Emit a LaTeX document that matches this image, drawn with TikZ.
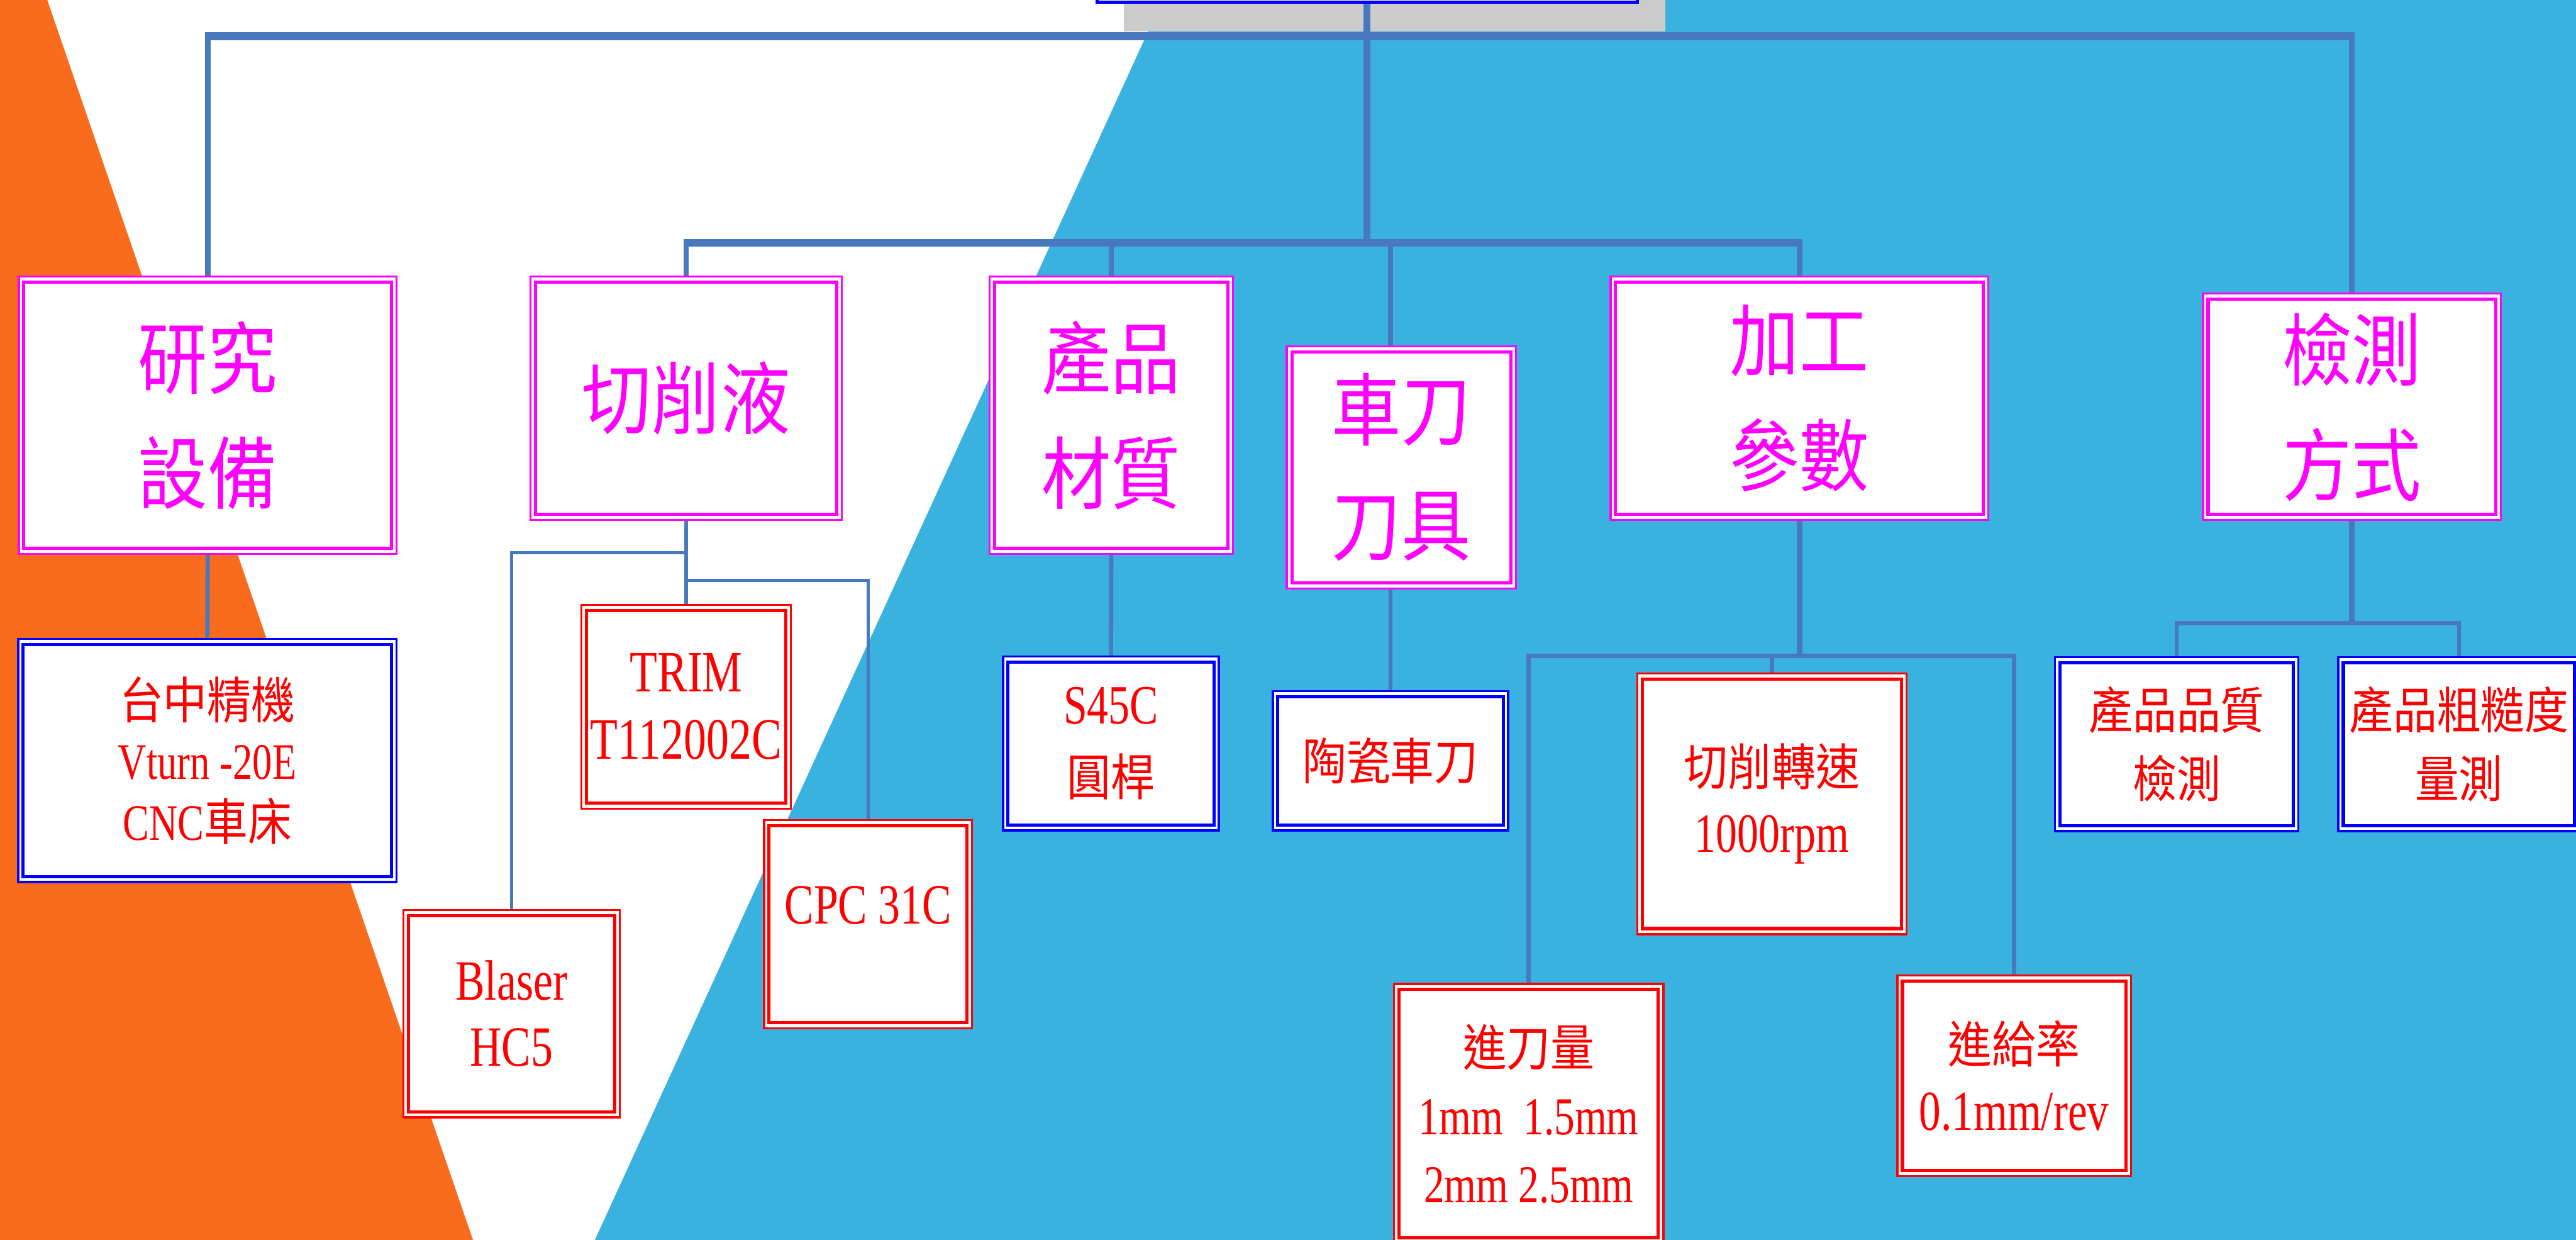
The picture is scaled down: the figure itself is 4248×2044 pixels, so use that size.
\documentclass[tikz,border=0pt]{standalone}
\usepackage{fontspec}
\setmainfont{Liberation Serif}[FakeStretch=0.77]
\newfontfamily\cjk{Noto Sans CJK TC}[FakeStretch=0.88]
\definecolor{borange}{RGB}{249,108,30}
\definecolor{bsky}{RGB}{58,178,224}
\definecolor{lgrey}{RGB}{204,204,204}
\definecolor{conn}{RGB}{72,121,190}
\definecolor{mag}{RGB}{255,0,255}
\definecolor{rd}{RGB}{255,0,0}
\definecolor{bl}{RGB}{0,0,255}
\newcommand\zh[1]{{\cjk\fontsize{23.4}{23.4}\selectfont #1}}
\newcommand\ebox[8]{%
  \node[bx=#2, #3, minimum width={(#6-#4)*0.01cm}, minimum height={(#7-#5)*0.01cm}] (#1) at ({(#4+#6)/2},{(#5+#7)/2}) {#8};
  \draw[bxin=#2] ([shift={(10,11)}]#1.north west) rectangle ([shift={(-10,-11)}]#1.south east);
}
\tikzset{
  bx/.style={draw=#1, line width=1pt, fill=white, inner sep=0pt},
  bxin/.style={draw=#1, line width=1.5pt},
  mtxt/.style={text=mag, align=center, font=\cjk\fontsize{37}{54}\selectfont},
  rtxt/.style={text=rd, align=center},
  trunk/.style={draw=conn, line width=3.2pt},
  barl/.style={draw=conn, line width=4pt, shorten <=-1.3pt, shorten >=-1.3pt},
  lvl/.style={draw=conn, line width=2.6pt},
  sub/.style={draw=conn, line width=2pt},
  thin/.style={draw=conn, line width=1.6pt},
}
\begin{document}
\begin{tikzpicture}[x=0.01cm, y=-0.01cm]
\useasboundingbox (0,0) rectangle (4248,2044);
\clip (0,0) rectangle (4248,2044);
% background
\fill[white] (0,0) rectangle (4248,2044);
\fill[borange] (0,0) -- (78,0) -- (780,2044) -- (0,2044) -- cycle;
\fill[bsky] (1917,0) -- (4248,0) -- (4248,2044) -- (981,2044) -- cycle;
\fill[lgrey] (1853,0) rectangle (2746,52);
% root (cut off at top)
\node[bx=bl, line width=1.5pt, minimum width={891*0.01cm}, minimum height={3cm}] (root) at (2254.5,-146) {};
% level 1
\ebox{b1}{mag}{mtxt}{31}{456}{654}{913}{研究\\設備}
\ebox{b2}{mag}{mtxt}{875}{456}{1388}{857}{切削液}
\ebox{b3}{mag}{mtxt}{1632}{456}{2033}{913}{產品\\材質}
\ebox{b4}{mag}{mtxt}{2122}{571}{2500}{970}{車刀\\刀具}
\ebox{b5}{mag}{mtxt}{2656}{456}{3279}{857}{加工\\參數}
\ebox{b6}{mag}{mtxt}{3633}{484}{4124}{857}{檢測\\方式}
% level 2
\ebox{b7}{bl}{rtxt,font=\fontsize{24}{28.5}\selectfont}{30}{1053}{654}{1454}{\zh{台中精機}\\Vturn -20E\\CNC\zh{車床}}
\ebox{b8}{rd}{rtxt,font=\fontsize{27.5}{31.6}\selectfont}{959}{997}{1304}{1333}{TRIM\\T112002C}
\ebox{b9}{rd}{rtxt,font=\fontsize{26.7}{31}\selectfont}{665}{1500}{1022}{1842}{Blaser\\HC5}
\ebox{b10}{rd}{}{1260}{1352}{1603}{1695}{}
\node[rtxt, font=\fontsize{26.7}{31}\selectfont] (t10) at ([yshift=0.31cm]b10.center) {CPC 31C};
\ebox{b11}{bl}{rtxt,font=\fontsize{26}{33.6}\selectfont}{1654}{1082}{2010}{1369}{S45C\\\zh{圓桿}}
\ebox{b12}{bl}{rtxt,font=\fontsize{24}{30}\selectfont}{2099}{1139}{2487}{1369}{\zh{陶瓷車刀}}
\ebox{b13}{rd}{rtxt,font=\fontsize{26}{31.3}\selectfont}{2700}{1110}{3144}{1540}{\zh{切削轉速}\\1000rpm}
\ebox{b14}{rd}{rtxt,font=\fontsize{25}{32}\selectfont}{2299}{1622}{2743}{2050}{\zh{進刀量}\\1mm\ \ 1.5mm\\2mm 2.5mm}
\ebox{b15}{rd}{rtxt,font=\fontsize{26.5}{31.3}\selectfont}{3129}{1608}{3514}{1939}{\zh{進給率}\\0.1mm/rev}
\ebox{b16}{bl}{rtxt,font=\fontsize{24}{32}\selectfont}{3389}{1083}{3790}{1370}{\zh{產品品質}\\\zh{檢測}}
\ebox{b17}{bl}{rtxt,font=\fontsize{24}{32}\selectfont}{3856}{1083}{4254}{1370}{\zh{產品粗糙度}\\\zh{量測}}
% trunk and bars
\draw[trunk] (root.south) -- (root.south |- 0,400.5);
\draw[barl] (b1.north |- 0,59.5) -- (b6.north |- 0,59.5);
\draw[lvl] (b1.north |- 0,59.5) -- (b1.north);
\draw[lvl] (b6.north |- 0,59.5) -- (b6.north);
\draw[barl, line width=3.7pt] (b2.north |- 0,400.5) -- (b5.north |- 0,400.5);
\draw[lvl] (b2.north |- 0,400.5) -- (b2.north);
\draw[lvl] (b3.north |- 0,400.5) -- (b3.north);
\draw[lvl] (b12.north |- 0,400.5) -- (b12.north |- b4.north);
\draw[lvl] (b5.north |- 0,400.5) -- (b5.north);
% sub connectors
\draw[sub] (b1.south) -- (b7.north);
\draw[sub] (b3.south) -- (b11.north);
\draw[sub] (b12.north |- b4.south) -- (b12.north);
\draw[thin] (b2.south) -- (b8.north);
\draw[thin] (b2.south |- 0,911) -| (b9.north);
\draw[thin] (b8.north |- 0,957) -| (b10.north);
\draw[lvl] (b5.south) -- (b5.south |- 0,1081);
\draw[sub] (b14.north) |- (b15.north |- 0,1081) -- (b15.north);
\draw[sub] (b13.north) -- (b13.north |- 0,1081);
\draw[lvl] (b6.south) -- (b6.south |- 0,1027);
\draw[sub] (b16.north) |- (b17.north |- 0,1027) -- (b17.north);
\end{tikzpicture}
\end{document}
